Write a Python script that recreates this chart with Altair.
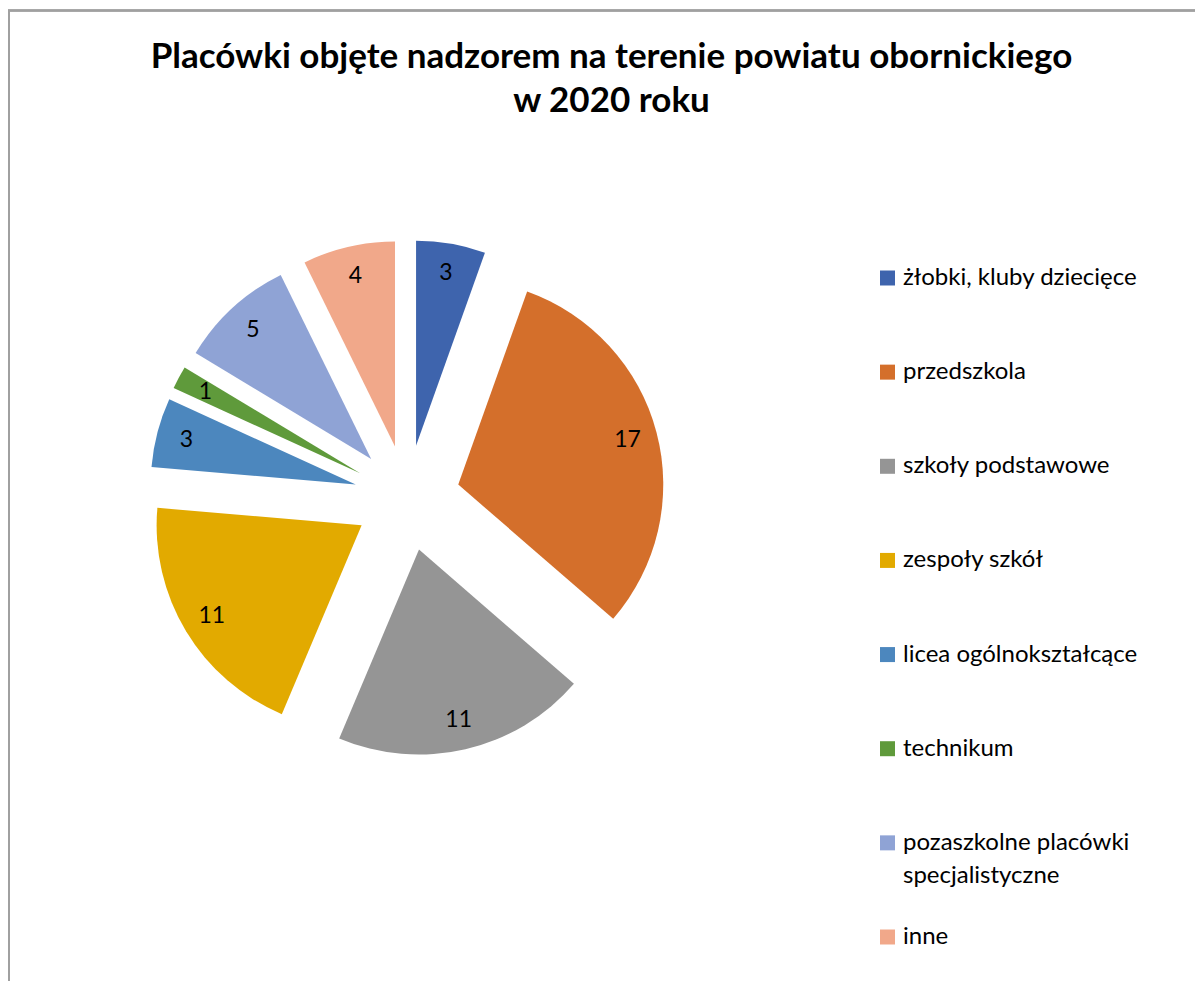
import math
import altair as alt
import pandas as pd

# ---- data ----
categories = [
    "żłobki, kluby dziecięce",
    "przedszkola",
    "szkoły podstawowe",
    "zespoły szkół",
    "licea ogólnokształcące",
    "technikum",
    "pozaszkolne placówki specjalistyczne",
    "inne",
]
legend_labels = [
    "żłobki, kluby dziecięce",
    "przedszkola",
    "szkoły podstawowe",
    "zespoły szkół",
    "licea ogólnokształcące",
    "technikum",
    "pozaszkolne placówki\nspecjalistyczne",
    "inne",
]
values = [3, 17, 11, 11, 3, 1, 5, 4]
colors = ["#3E64AD", "#D46F2B", "#959595", "#E2AA00", "#4C87BE", "#5F9A3B", "#8FA3D5", "#F1A88A"]

total = sum(values)
df = pd.DataFrame({
    "kategoria": categories,
    "etykieta": legend_labels,
    "wartosc": values,
    "kolejnosc": list(range(len(values))),
})

# ---- layout constants ----
W, H = 1187, 973
CX, CY, R = 399, 490, 205       # pie centre / radius (view pixels)
EXPLODE = 0.2585                # slice explosion (fraction of radius)
LABEL_R = 1.112                 # label distance (fraction of radius)
FONT = "Lato"

xs = alt.Scale(domain=[-1, 1], range=[CX - R, CX + R])
ys = alt.Scale(domain=[-1, 1], range=[CY + R, CY - R])
color_scale = alt.Scale(domain=categories, range=colors)

base = alt.Chart(df).transform_window(
    cum="sum(wartosc)", sort=[alt.SortField("kolejnosc")]
).transform_calculate(
    start="datum.cum - datum.wartosc",
    mid=f"(datum.cum - datum.wartosc / 2) / {total} * 2 * PI",
).transform_calculate(
    ex=f"{EXPLODE} * sin(datum.mid)",
    ey=f"{EXPLODE} * cos(datum.mid)",
    lx=f"{LABEL_R} * sin(datum.mid)",
    ly=f"{LABEL_R} * cos(datum.mid)",
)

arcs = base.mark_arc(radius=R).encode(
    theta=alt.Theta("start:Q", scale=alt.Scale(domain=[0, total], range=[0, 2 * math.pi]), stack=False),
    theta2="cum:Q",
    x=alt.X("ex:Q", scale=xs, axis=None),
    y=alt.Y("ey:Q", scale=ys, axis=None),
    color=alt.Color("kategoria:N", scale=color_scale, legend=None),
)

labels = base.mark_text(font=FONT, fontSize=23, color="#000000").encode(
    x=alt.X("lx:Q", scale=xs, axis=None),
    y=alt.Y("ly:Q", scale=ys, axis=None),
    text="wartosc:Q",
)

pie = alt.layer(arcs, labels)

leg_y = alt.Scale(type="point", domain=categories, range=[270, 929], padding=0)
leg_sq = alt.Chart(df).mark_square(size=225, opacity=1).encode(
    x=alt.value(879.5),
    y=alt.Y("kategoria:N", scale=leg_y, axis=None),
    color=alt.Color("kategoria:N", scale=color_scale, legend=None),
)
leg_tx = alt.Chart(df).mark_text(
    font=FONT, fontSize=24, align="left", baseline="top", dy=-12,
    lineBreak="\n", lineHeight=33, color="#000000",
).encode(
    x=alt.value(895),
    y=alt.Y("kategoria:N", scale=leg_y, axis=None),
    text="etykieta:N",
)
legend = alt.layer(leg_sq, leg_tx)

frame_top = alt.Chart(df).mark_rule(color="#A0A0A0", strokeWidth=1.5).encode(
    x=alt.value(0), x2=alt.value(W), y=alt.value(2.5)
)
frame_left = alt.Chart(df).mark_rule(color="#A0A0A0", strokeWidth=1.5).encode(
    x=alt.value(0.75), y=alt.value(2), y2=alt.value(H)
)

chart = alt.layer(frame_top, frame_left, pie, legend).resolve_scale(
    y="independent"
).properties(
    width=W,
    height=H,
    padding=0,
    autosize=alt.AutoSizeParams(type="none"),
    title=alt.TitleParams(
        text=["Placówki objęte nadzorem na terenie powiatu obornickiego", "w 2020 roku"],
        font=FONT, fontSize=35, fontWeight="bold", color="#000000",
        anchor="middle", baseline="top", lineHeight=44, offset=0, dx=10, dy=111,
    ),
).configure_view(stroke=None)

chart.save("out.html", embed_options={"renderer": "svg", "actions": False})
